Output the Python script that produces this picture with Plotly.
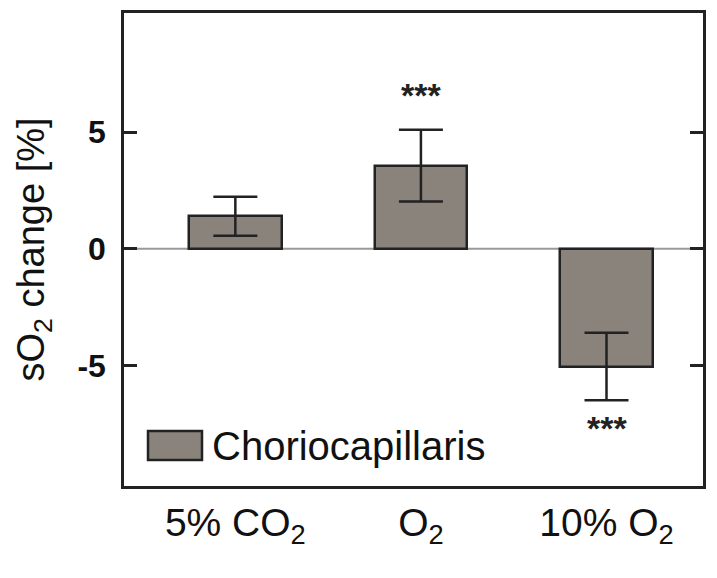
import plotly.graph_objects as go

categories = ["5% CO<sub>2</sub>", "O<sub>2</sub>", "10% O<sub>2</sub>"]
values = [1.39, 3.56, -5.05]
errors = [0.84, 1.54, 1.45]
stars = ["", "***", "***"]
star_y = [None, 6.6, -7.7]
series_name = "Choriocapillaris"
ytick_vals = [-5, 0, 5]

FONT = "Liberation Sans, Arial, sans-serif"
xpos = list(range(len(categories)))

# plot-area geometry (page pixels) used only for the hand-drawn legend box
PL, PR, PT, PB = 124, 703, 13, 486
PW, PH = PR - PL, PB - PT

fig = go.Figure()
fig.add_trace(go.Bar(
    x=xpos, y=values, width=0.5, name=series_name,
    marker=dict(color="#8a837c", line=dict(color="#222222", width=2.5)),
    error_y=dict(type="data", array=errors, visible=True, color="#222222",
                 thickness=2.5, width=22),
    showlegend=False,
))

for x, s, yy in zip(xpos, stars, star_y):
    if s:
        fig.add_annotation(x=x, y=yy, text="<b>" + s + "</b>", showarrow=False,
                           font=dict(family=FONT, size=34, color="#222222"),
                           xref="x", yref="y")

# zero line
fig.add_hline(y=0, line=dict(color="#999999", width=2), layer="below")

# legend drawn as a box + label
fig.add_shape(type="rect", xref="paper", yref="paper",
              x0=(148 - PL) / PW, x1=(202 - PL) / PW,
              y0=(PB - 460) / PH, y1=(PB - 431) / PH,
              fillcolor="#8a837c", line=dict(color="#222222", width=2.5))
fig.add_annotation(xref="paper", yref="paper", x=(210 - PL) / PW, y=(PB - 446) / PH,
                   text=series_name, showarrow=False, xanchor="left", yanchor="middle",
                   font=dict(family=FONT, size=40, color="#111111"))

fig.update_layout(
    width=701, height=562,
    margin=dict(l=116, r=6, t=5, b=84),
    paper_bgcolor="white", plot_bgcolor="white",
    font=dict(family=FONT, color="#111111"),
    bargap=0,
)
fig.update_xaxes(
    range=[-0.6, 2.52], tickvals=xpos, ticktext=categories,
    showgrid=False, zeroline=False, ticks="", automargin=False,
    showline=True, linecolor="#222222", linewidth=2.5, mirror=True,
    tickfont=dict(family=FONT, size=39, color="#111111"),
)
fig.update_yaxes(
    range=[-10.17, 10.1], tickvals=ytick_vals, ticktext=[str(v) for v in ytick_vals],
    showgrid=False, zeroline=False, automargin=False,
    ticks="inside", ticklen=13, tickwidth=2.5, tickcolor="#222222",
    showline=True, linecolor="#222222", linewidth=2.5, mirror="ticks",
    tickfont=dict(family=FONT, size=32, color="#111111", weight="bold"),
    ticklabelstandoff=9,
    title=dict(text="sO<sub>2</sub> change [%]", standoff=22,
               font=dict(family=FONT, size=38, color="#111111")),
)

fig.write_html("out.html")
